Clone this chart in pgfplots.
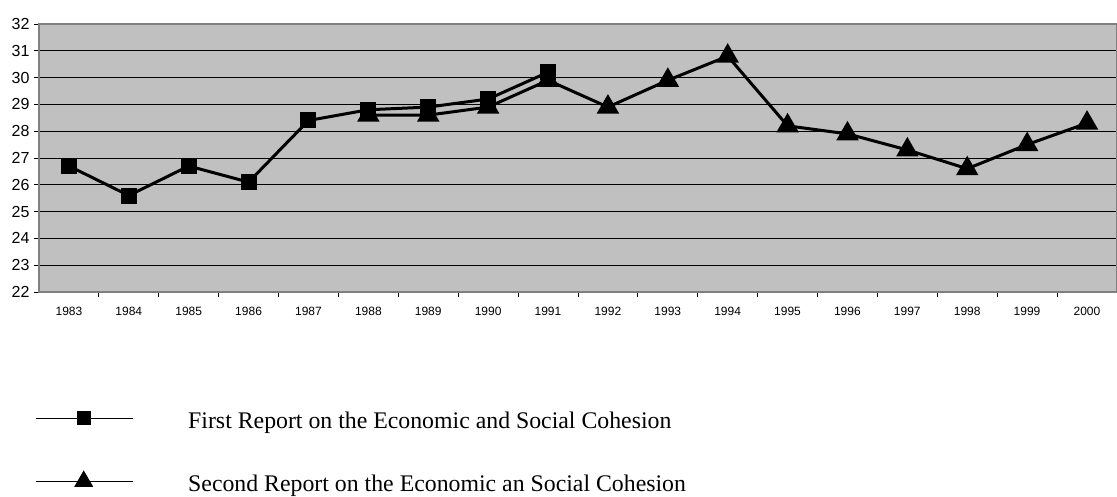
\documentclass[border=0pt]{standalone}
\usepackage{fontspec}
\setmainfont{Liberation Sans}
\newfontfamily\timesfont{Liberation Serif}
\usepackage{pgfplots}
\pgfplotsset{compat=1.18}
\definecolor{plotbg}{HTML}{C0C0C0}
\definecolor{frame}{HTML}{808080}

\begin{document}
\begin{tikzpicture}
\path[use as bounding box] (0,0) rectangle (1117bp,497bp);
\begin{axis}[
    at={(39bp,205bp)}, anchor=south west,
    scale only axis, width=1078bp, height=268bp,
    xmin=1982.5, xmax=2000.5, ymin=22, ymax=32,
    axis background/.style={fill=plotbg},
    axis line style={draw=frame, line width=1.6bp},
    /pgf/number format/1000 sep={},
    /pgf/number format/assume math mode=true,
    xtick={1983,...,2000}, major x tick style={draw=none},
    minor xtick={1983.5,1984.5,...,1999.5},
    minor x tick style={black, line width=0.8bp},
    minor tick length=5bp,
    ytick={22,...,32}, major tick length=5bp,
    major y tick style={black, line width=0.8bp},
    tick align=outside, xtick pos=bottom, ytick pos=left,
    ymajorgrids, grid style={black, line width=0.8bp},
    xticklabel style={font=\fontsize{12bp}{14bp}\selectfont, yshift=-7bp},
    yticklabel style={font=\fontsize{16bp}{18bp}\selectfont, xshift=-1bp},
    legend style={at={(-0.0037,-0.5993)}, anchor=west, draw=none, fill=none,
        inner sep=0pt, row sep=41bp, cells={anchor=west},
        font=\timesfont\fontsize{23.8bp}{26bp}\selectfont,
        nodes={inner sep=0pt},
        /tikz/every odd column/.append style={column sep=55bp}},
    legend image code/.code={
        \draw[mark repeat=2, mark phase=2, #1, line width=1bp]
            plot coordinates {(0bp,3bp) (48bp,3bp) (97bp,3bp)};},
]
\addplot[black, line width=3bp, mark=square*, mark size=6.5bp,
    mark options={solid}] coordinates {
    (1983,26.7) (1984,25.6) (1985,26.7) (1986,26.1) (1987,28.4)
    (1988,28.8) (1989,28.9) (1990,29.2) (1991,30.2)};
\addlegendentry{First Report on the Economic and Social Cohesion}
\addplot[black, line width=3bp, mark=triangle*, mark size=10bp,
    mark options={solid}] coordinates {
    (1988,28.6) (1989,28.6) (1990,28.9) (1991,29.9) (1992,28.9)
    (1993,29.9) (1994,30.8) (1995,28.2) (1996,27.9) (1997,27.3)
    (1998,26.6) (1999,27.5) (2000,28.3)};
\addlegendentry{Second Report on the Economic an Social Cohesion}
\end{axis}
\end{tikzpicture}
\end{document}
